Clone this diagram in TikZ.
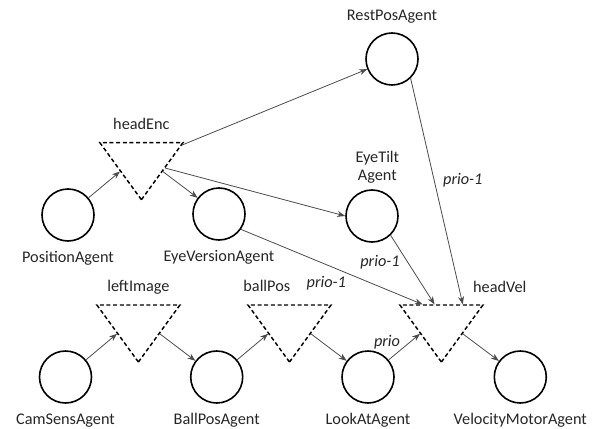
\documentclass[tikz,border=0pt]{standalone}
\usepackage{fontspec}
\setmainfont{Carlito}
\usepackage{tikz}
\usetikzlibrary{arrows.meta,positioning,shapes.geometric,calc}
\colorlet{linkgray}{black!70}

\begin{document}
\begin{tikzpicture}[
    x=0.75pt, y=-0.75pt,
    font=\fontsize{12.2}{14}\selectfont,
    agent/.style={circle,draw,line width=1.2pt,minimum size=39pt,inner sep=0pt},
    hub/.style={regular polygon,regular polygon sides=3,shape border rotate=180,draw,dash pattern=on 3pt off 2pt,line width=1.1pt,minimum size=71.9pt,inner sep=0pt,yscale=0.793},
    lbl/.style={text=black!85,inner sep=1pt,text height=9.2pt,text depth=2.5pt},
    lbltwo/.style={text=black!85,inner sep=1pt,align=center},
    priolbl/.style={lbl,font=\fontsize{12.2}{14}\selectfont\itshape},
    link/.style={->,draw=linkgray,line width=0.6pt},
    label distance=4.8pt,
    >={Stealth[length=6pt,width=4.5pt]}
]
\useasboundingbox (0,0) rectangle (599,428);

% upper part
\node[agent,label={[lbl]below:PositionAgent}] (position) at (68,215) {};
\node[hub] (headenc) at (141.4,161.7) {};
\node[agent,label={[lbl]below:EyeVersionAgent}] (eyeversion) at (219,214) {};
\node[agent,label={[lbltwo,xshift=4pt,label distance=3pt]above:EyeTilt\\Agent}] (eyetilt) at (372,216) {};
\node[agent,label={[lbl]above:RestPosAgent}] (restpos) at (392,59) {};

% lower part
\node[agent,label={[lbl]below:CamSensAgent}] (camsens) at (65.5,377) {};
\node[hub] (leftimage) at (138.4,324) {};
\node[agent,label={[lbl]below:BallPosAgent}] (ballposagent) at (216.7,377) {};
\node[hub] (ballpos) at (289.5,324) {};
\node[agent,label={[lbl]below:LookAtAgent}] (lookat) at (368,377) {};
\node[hub] (headvel) at (441.4,324) {};
\node[agent,label={[lbl]below:VelocityMotorAgent}] (velmotor) at (520.3,377) {};

% triangle names
\node[lbl,above=6pt of headenc.side 2] (headenclbl) {headEnc};
\node[lbl,above=6pt of leftimage.side 2] (leftimagelbl) {leftImage};
\node[lbl,above=6pt of ballpos.side 2,xshift=-17pt] (ballposlbl) {ballPos};
\node[lbl,anchor=base west] (headvellbl) at ([xshift=-9.5pt,yshift=9pt]headvel.corner 2) {headVel};

\coordinate (hvin1) at ($(headvel.corner 3)!0.28!(headvel.corner 2)$);
\coordinate (hvin2) at ($(headvel.corner 3)!0.42!(headvel.corner 2)$);
\coordinate (hvin3) at ($(headvel.corner 3)!0.75!(headvel.corner 2)$);

\draw[link] (position) -- (headenc.side 3);
\draw[link] (headenc.side 1) -- (eyeversion);
\draw[link] (headenc) -- (restpos);
\draw[link] (headenc) -- (eyetilt.west);
\draw[link] (eyeversion.-35) -- (hvin1) node[priolbl,pos=0.47,below=7pt] {prio-1};
\draw[link] (eyetilt.-46) -- (hvin2) node[priolbl,pos=0.39,left=4.8pt] {prio-1};
\draw[link] (restpos.-46) -- (hvin3) node[priolbl,pos=0.45,right=5.5pt] {prio-1};

\draw[link] (camsens) -- (leftimage.side 3);
\draw[link] (leftimage.side 1) -- (ballposagent);
\draw[link] (ballposagent) -- (ballpos.side 3);
\draw[link] (ballpos.side 1) -- (lookat);
\draw[link] (lookat) -- (headvel.side 3) node[priolbl,pos=0.3,anchor=south east,xshift=2.8pt] {prio};
\draw[link] (headvel.side 1) -- (velmotor);
\end{tikzpicture}
\end{document}
